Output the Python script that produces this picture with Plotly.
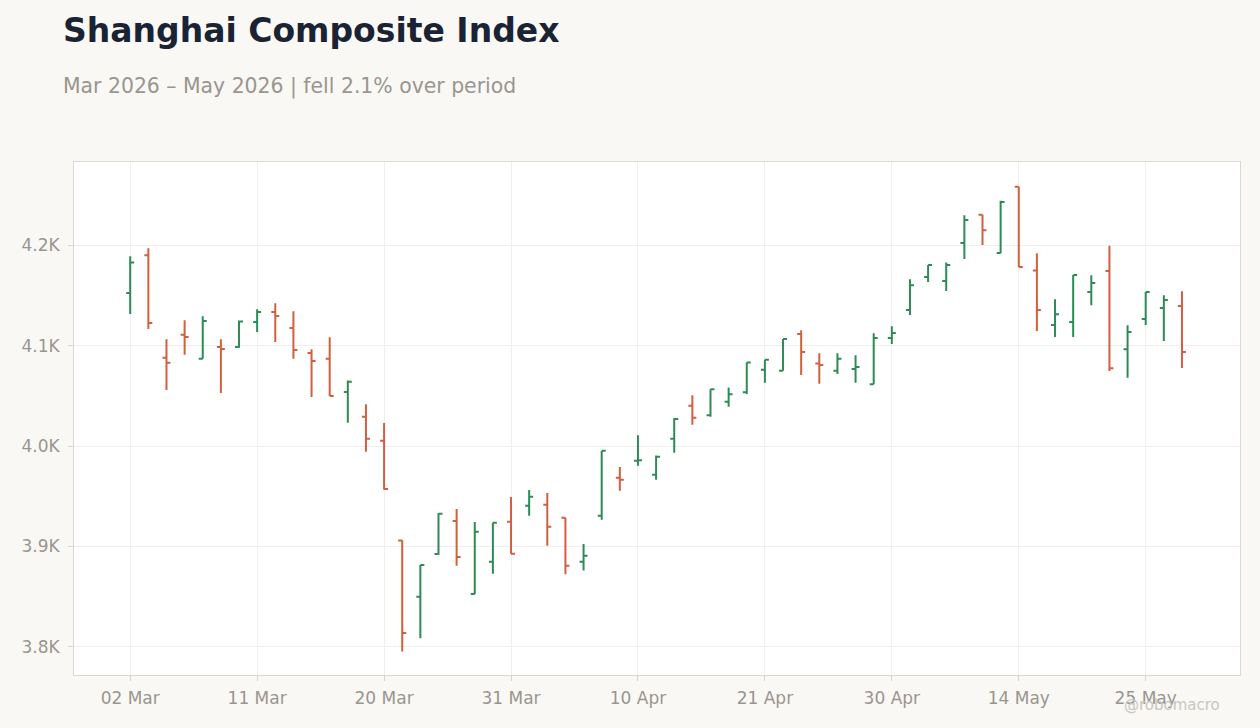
import plotly.graph_objects as go

dates = [
    "2026-03-02", "2026-03-03", "2026-03-04", "2026-03-05", "2026-03-06",
    "2026-03-09", "2026-03-10", "2026-03-11", "2026-03-12", "2026-03-13",
    "2026-03-16", "2026-03-17", "2026-03-18", "2026-03-19", "2026-03-20",
    "2026-03-23", "2026-03-24", "2026-03-25", "2026-03-26", "2026-03-27",
    "2026-03-30", "2026-03-31", "2026-04-01", "2026-04-02", "2026-04-03",
    "2026-04-07", "2026-04-08", "2026-04-09", "2026-04-10", "2026-04-13",
    "2026-04-14", "2026-04-15", "2026-04-16", "2026-04-17", "2026-04-20",
    "2026-04-21", "2026-04-22", "2026-04-23", "2026-04-24", "2026-04-27",
    "2026-04-28", "2026-04-29", "2026-04-30", "2026-05-06", "2026-05-07",
    "2026-05-08", "2026-05-11", "2026-05-12", "2026-05-13", "2026-05-14",
    "2026-05-15", "2026-05-18", "2026-05-19", "2026-05-20", "2026-05-21",
    "2026-05-22", "2026-05-25", "2026-05-26", "2026-05-27",
]

open_ = [
    4152.5, 4190.0, 4087.9, 4110.8, 4086.9, 4098.8, 4098.8, 4123.7, 4133.6, 4117.7,
    4092.8, 4086.9, 4054.0, 4029.2, 4005.3, 3905.9, 3850.0, 3892.5, 3925.4, 3852.7,
    3884.9, 3924.7, 3940.6, 3941.6, 3928.7, 3884.9, 3930.6, 3968.5, 3985.5, 3971.4,
    4007.3, 4040.1, 4030.8, 4044.1, 4053.7, 4076.0, 4075.0, 4111.7, 4082.3, 4075.0,
    4076.9, 4061.7, 4107.8, 4135.6, 4168.5, 4164.5, 4202.3, 4230.5, 4192.3, 4258.4,
    4174.8, 4120.7, 4123.7, 4153.5, 4174.4, 4096.5, 4126.7, 4137.6, 4139.6,
]
high = [
    4189.0, 4197.0, 4106.5, 4125.4, 4129.4, 4106.5, 4125.0, 4136.3, 4142.3, 4134.3,
    4096.5, 4108.5, 4065.3, 4041.8, 4022.9, 3906.2, 3881.6, 3933.0, 3937.3, 3924.4,
    3923.7, 3949.3, 3956.2, 3953.2, 3928.7, 3902.5, 3995.3, 3979.1, 4010.9, 3990.7,
    4027.9, 4050.7, 4056.7, 4058.4, 4083.3, 4085.9, 4106.8, 4115.4, 4092.5, 4092.5,
    4090.5, 4112.4, 4119.4, 4166.2, 4180.4, 4182.8, 4229.9, 4230.5, 4244.5, 4258.4,
    4192.0, 4146.3, 4170.4, 4170.1, 4199.7, 4120.4, 4153.5, 4150.2, 4154.2,
]
low = [
    4131.6, 4116.7, 4056.0, 4090.9, 4086.9, 4053.0, 4098.0, 4113.7, 4103.8, 4086.9,
    4049.0, 4049.8, 4023.2, 3994.3, 3956.5, 3795.3, 3808.7, 3891.9, 3880.9, 3852.7,
    3872.9, 3892.8, 3930.6, 3900.8, 3872.3, 3876.0, 3926.7, 3955.5, 3980.4, 3966.5,
    3993.3, 4021.2, 4029.2, 4039.1, 4052.0, 4063.0, 4075.0, 4070.9, 4062.0, 4071.9,
    4063.0, 4061.5, 4101.8, 4130.6, 4163.5, 4154.5, 4186.4, 4200.3, 4192.0, 4178.4,
    4114.7, 4108.8, 4108.8, 4140.3, 4074.9, 4068.0, 4120.7, 4104.8, 4077.9,
]
close = [
    4183.0, 4122.7, 4083.0, 4108.8, 4124.7, 4096.8, 4124.0, 4133.6, 4129.6, 4095.8,
    4084.9, 4049.8, 4064.0, 4007.3, 3957.2, 3813.9, 3881.6, 3932.6, 3889.6, 3914.7,
    3923.7, 3892.8, 3949.6, 3919.7, 3880.9, 3890.9, 3995.3, 3966.5, 3986.0, 3989.4,
    4026.9, 4028.2, 4056.7, 4051.7, 4083.3, 4085.9, 4106.8, 4093.8, 4080.9, 4086.9,
    4078.9, 4107.8, 4112.7, 4160.2, 4180.4, 4180.4, 4225.2, 4214.9, 4243.1, 4178.4,
    4135.6, 4131.3, 4170.4, 4162.5, 4077.6, 4113.7, 4153.5, 4145.6, 4093.8,
]

tick_dates = ["2026-03-02", "2026-03-11", "2026-03-20", "2026-03-31", "2026-04-10",
              "2026-04-21", "2026-04-30", "2026-05-14", "2026-05-25"]
tick_labels = ["02 Mar", "11 Mar", "20 Mar", "31 Mar", "10 Apr",
               "21 Apr", "30 Apr", "14 May", "25 May"]

y_ticks = [3800, 3900, 4000, 4100, 4200]
y_labels = ["3.8K", "3.9K", "4.0K", "4.1K", "4.2K"]

change = (close[-1] / close[0] - 1) * 100
subtitle = f"Mar 2026 – May 2026 | {'fell' if change < 0 else 'rose'} {abs(change):.1f}% over period"

GRAY = "#9a958f"

fig = go.Figure()
fig.add_trace(go.Ohlc(
    x=dates, open=open_, high=high, low=low, close=close,
    increasing=dict(line=dict(color="#2e8b57", width=2)),
    decreasing=dict(line=dict(color="#d0603f", width=2)),
    tickwidth=0.22,
    showlegend=False,
))

fig.update_layout(
    width=1260, height=728,
    paper_bgcolor="#f9f8f5",
    plot_bgcolor="#ffffff",
    font=dict(family="DejaVu Sans", color=GRAY, size=17),
    margin=dict(l=74, r=20, t=162, b=53),
    xaxis=dict(
        type="category",
        rangeslider=dict(visible=False),
        range=[-3.1, 61.2],
        tickmode="array", tickvals=tick_dates, ticktext=tick_labels,
        showgrid=True, gridcolor="#f0efed",
        ticks="outside", ticklen=5, tickcolor="#d9d6d0",
        ticklabelstandoff=3,
        showline=True, linecolor="#dcd7d0", mirror=True,
        tickfont=dict(size=17, color=GRAY),
    ),
    yaxis=dict(
        range=[3772, 4283],
        tickvals=y_ticks, ticktext=y_labels,
        showgrid=True, gridcolor="#f0efed",
        ticks="outside", ticklen=5, tickcolor="#d9d6d0",
        ticklabelstandoff=5,
        showline=True, linecolor="#dcd7d0", mirror=True,
        zeroline=False,
        tickfont=dict(size=17, color=GRAY),
    ),
    annotations=[
        dict(text="<b>Shanghai Composite Index</b>", xref="paper", yref="paper",
             x=-0.0111, y=1.2554, xanchor="left", yanchor="middle",
             showarrow=False, font=dict(size=33, color="#1a2333")),
        dict(text=subtitle, xref="paper", yref="paper",
             x=-0.0111, y=1.148, xanchor="left", yanchor="middle",
             showarrow=False, font=dict(size=20.4, color=GRAY)),
        dict(text="@robomacro", xref="paper", yref="paper",
             x=0.9846, y=-0.0585, xanchor="right", yanchor="middle",
             showarrow=False, font=dict(size=15, color="#c9c6c1")),
    ],
)

fig.write_html("out.html", config={"displayModeBar": False},
               post_script="document.body.style.margin='0';")
